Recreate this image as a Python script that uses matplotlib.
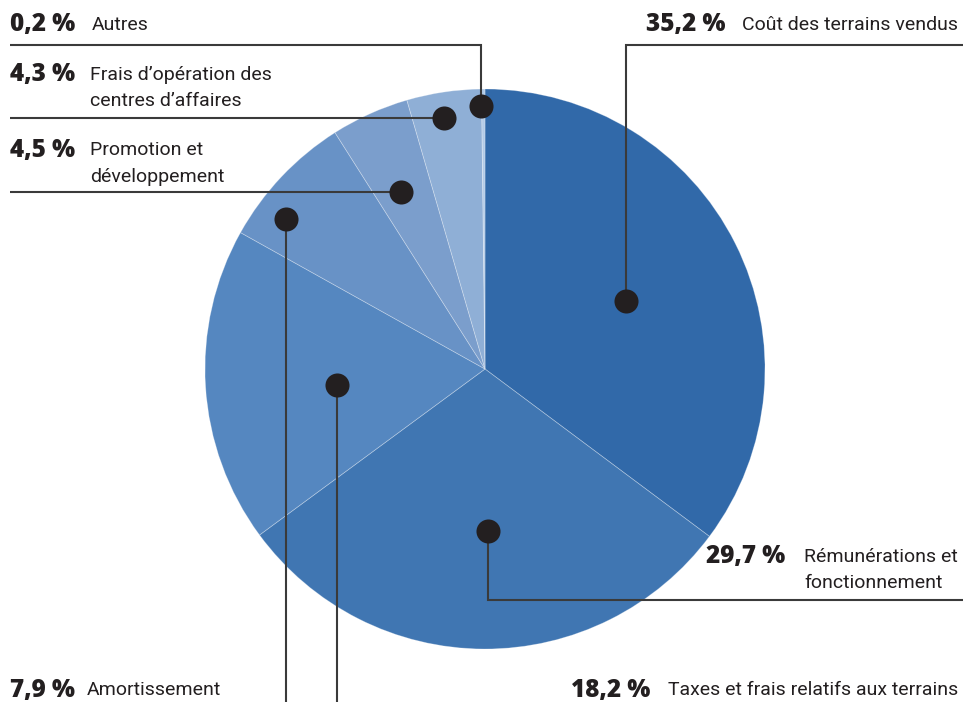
import numpy as np
import matplotlib
matplotlib.use("Agg")
import matplotlib.pyplot as plt

# ---- data ----
pct_values = [35.2, 29.7, 18.2, 7.9, 4.5, 4.3, 0.2]
pct_labels = ["35,2 %", "29,7 %", "18,2 %", "7,9 %", "4,5 %", "4,3 %", "0,2 %"]
categories = ["Coût des terrains vendus",
              "Rémunérations et\nfonctionnement",
              "Taxes et frais relatifs aux terrains",
              "Amortissement",
              "Promotion et\ndéveloppement",
              "Frais d\u2019opération des\ncentres d\u2019affaires",
              "Autres"]

# ---- style / layout ----
colors = ["#3169A9", "#4076B2", "#5587C0", "#6892C6", "#7B9ECC", "#8FAFD6", "#B3CBE7"]
W, H = 963, 702
cx, cy, R = 485, 369, 280          # pixel coords (y from top)
dot_frac = [0.56, 0.58, 0.53, 0.89, 0.70, 0.91, 0.94]
dot_ang_off = [-1.0, 1.2, 2.6, 6.4, 1.2, 0.8, 0.5]
# leader path segments: ('v', y) vertical to y, ('h', x) horizontal to x
paths = [[('v', 45), ('h', 963)],
         [('v', 600), ('h', 963)],
         [('v', 702)],
         [('v', 702)],
         [('h', 10)],
         [('h', 10)],
         [('v', 45), ('h', 10)]]
# side: 'L' -> pct at x0, label at x1 ; 'R' -> label right edge at x1, gap x0
text_pos = [('R', 17, 958, 25), ('R', 19, 958, 557), ('R', 17, 958, 690),
            ('L', 10, 87, 690), ('L', 10, 90, 150), ('L', 10, 90, 75),
            ('L', 10, 92, 25)]
line_gap = 26.5

pct_font = ['Open Sans', 'DejaVu Sans']
lab_font = ['Roboto', 'DejaVu Sans']
line_col = "#3a3a3a"
dot_col = "#231F20"
txt_col = "#231F20"

fig = plt.figure(figsize=(W / 100, H / 100), dpi=100)
ax = fig.add_axes([0, 0, 1, 1])

def Y(py):
    return H - py

ax.pie(pct_values, colors=colors, startangle=90, counterclock=False,
       center=(cx, Y(cy)), radius=R,
       wedgeprops=dict(edgecolor=(1, 1, 1, 0.3), linewidth=0.6))

ax.set_xlim(0, W)
ax.set_ylim(0, H)
ax.set_aspect('equal')
ax.axis('off')

# dots and leader lines
cum = np.cumsum([0] + pct_values)
for i, v in enumerate(pct_values):
    mid = 90 - (cum[i] + v / 2) * 3.6 + dot_ang_off[i]
    dx = cx + dot_frac[i] * R * np.cos(np.radians(mid))
    dy = cy - dot_frac[i] * R * np.sin(np.radians(mid))
    xs, ys = [dx], [dy]
    for kind, val in paths[i]:
        if kind == 'v':
            xs.append(xs[-1]); ys.append(val)
        else:
            xs.append(val); ys.append(ys[-1])
    ax.plot(xs, [Y(y) for y in ys], color=line_col, lw=1.5, zorder=3,
            solid_capstyle='butt', solid_joinstyle='miter')
    ax.scatter([dx], [Y(dy)], s=300, color=dot_col, zorder=4, linewidths=0)

# text
renderer = fig.canvas.get_renderer()
for i in range(len(pct_values)):
    side, a, b, ty = text_pos[i]
    lines = categories[i].split("\n")
    if side == 'L':
        px, lx = a, b
        for j, line in enumerate(lines):
            ax.text(lx, Y(ty + j * line_gap), line, family=lab_font, fontsize=14,
                    color=txt_col, va='center', ha='left')
    else:
        objs = [ax.text(0, Y(ty + j * line_gap), line, family=lab_font, fontsize=14,
                        color=txt_col, va='center', ha='left')
                for j, line in enumerate(lines)]
        wmax = max(o.get_window_extent(renderer).width for o in objs)
        lx = b - wmax
        for o in objs:
            o.set_x(lx)
        px = None
    t = ax.text(0, Y(ty), pct_labels[i], family=pct_font, fontweight='extra bold',
                fontsize=17.5, color=txt_col, va='center', ha='left')
    if side == 'L':
        t.set_x(px)
    else:
        t.set_ha('right')
        t.set_x(lx - a)

fig.savefig("out.png", dpi=100)
